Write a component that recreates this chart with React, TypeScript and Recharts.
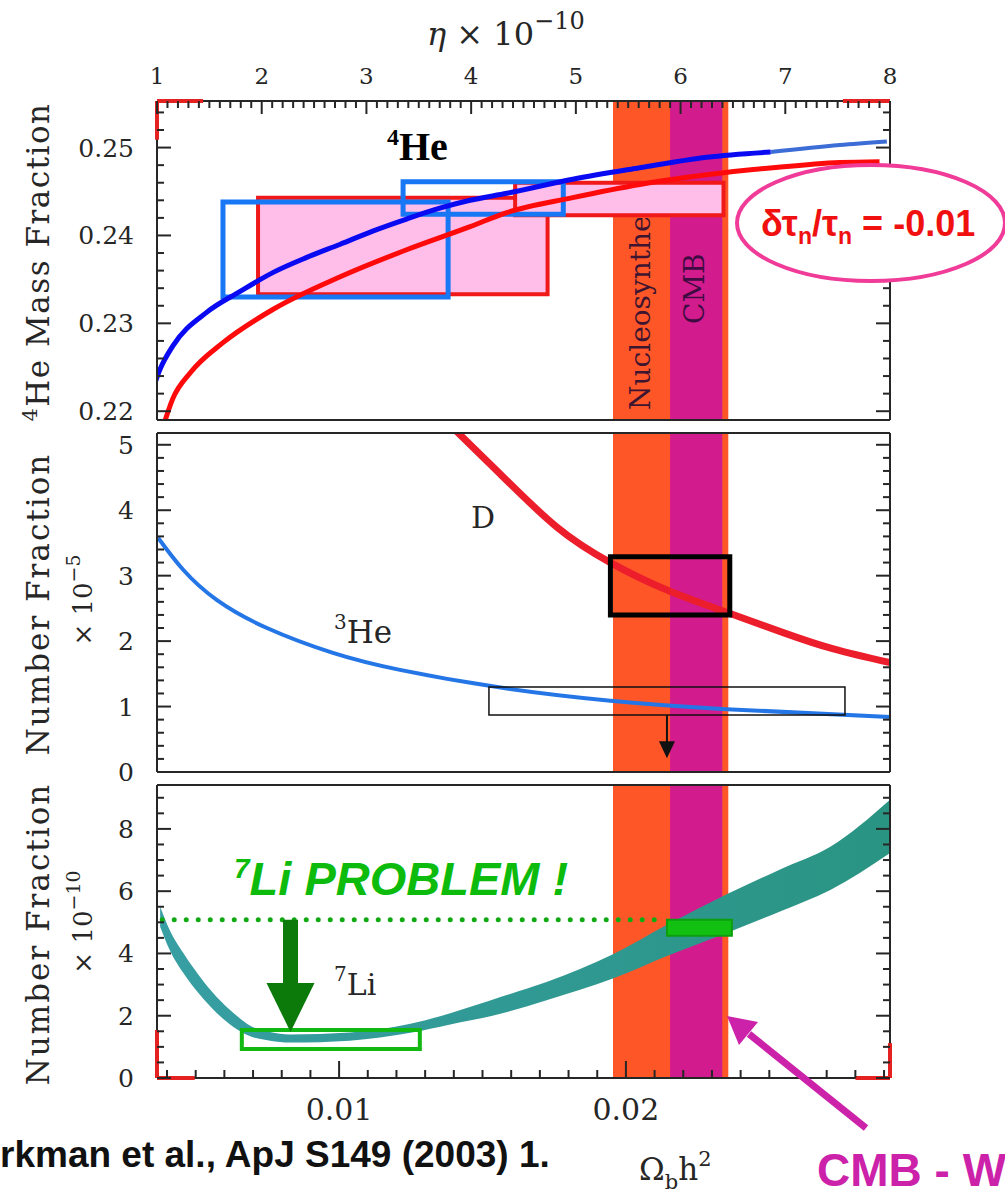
import React from 'react';
import {
  ComposedChart,
  Line,
  Area,
  XAxis,
  YAxis,
  ReferenceArea,
  ReferenceLine,
  ReferenceDot,
} from 'recharts';

const W = 1005;
const H = 1195;
const ETA_PER_OMEGA = 273.9; // eta_10 = 273.9 * Omega_b h^2

const SERIF = '"DejaVu Serif", "Liberation Serif", serif';
const TIMES = '"Liberation Serif", "DejaVu Serif", serif';
const SANS = '"Liberation Sans", Arial, sans-serif';

// ---- axis ticks ----
const etaTicks = Array.from({ length: 71 }, (_, i) => Math.round(10 + i) / 10);
const etaLabels = [1, 2, 3, 4, 5, 6, 7, 8];
const omegaTicks = Array.from({ length: 26 }, (_, i) => (4 + i) / 1000);
const omegaLabels = [0.01, 0.02];
const omegaDomain = [1 / ETA_PER_OMEGA, 8 / ETA_PER_OMEGA];

const heTicks = Array.from({ length: 18 }, (_, i) => (220 + 2 * i) / 1000);
const heLabels = [0.22, 0.23, 0.24, 0.25];
const dTicks = Array.from({ length: 26 }, (_, i) => (2 * i) / 10);
const dLabels = [0, 1, 2, 3, 4, 5];
const liTicks = Array.from({ length: 19 }, (_, i) => i / 2);
const liLabels = [0, 2, 4, 6, 8];

// ---- bands in Omega_b h^2 ----
const nucleoBand = [0.01955, 0.02357];
const cmbBand = [0.02154, 0.02336];

// ---- 4He mass fraction ----
const heBlueEta = [0.9, 1.03, 1.15, 1.48, 1.79, 2.11, 2.43, 2.75, 3.06, 3.39, 3.7, 3.99, 4.34, 4.97, 5.61, 6.25, 6.86];
const heBlueY = [0.2202, 0.2248, 0.2274, 0.2313, 0.2336, 0.2358, 0.2375, 0.239, 0.2405, 0.2419, 0.2431, 0.244, 0.2448, 0.2464, 0.2477, 0.2489, 0.2495];
const heTailEta = [6.86, 7.52, 7.97];
const heTailY = [0.2495, 0.2503, 0.2507];
const heRedEta = [1.06, 1.15, 1.32, 1.63, 2.11, 2.75, 3.39, 3.99, 4.34, 4.97, 5.61, 6.25, 6.88, 7.52, 7.9];
const heRedY = [0.2183, 0.2214, 0.2244, 0.2278, 0.2316, 0.2353, 0.2384, 0.241, 0.2426, 0.2443, 0.2458, 0.2469, 0.2477, 0.2483, 0.2484];
// observation boxes [eta1, eta2, Y1, Y2]
const hePinkBoxes = [
  [1.965, 4.73, 0.2333, 0.2443],
  [4.42, 6.41, 0.2423, 0.246],
];
const heBlueBoxes = [
  [1.63, 3.78, 0.233, 0.2438],
  [3.35, 4.88, 0.2424, 0.2461],
];

// ---- D and 3He (x 1e-5) ----
const dEta = [3.8, 4.28, 4.82, 5.33, 5.87, 6.44, 6.98, 7.46, 8.0];
const dVal = [5.3, 4.55, 3.74, 3.2, 2.78, 2.44, 2.13, 1.88, 1.67];
const he3Eta = [1.01, 1.25, 1.57, 2.05, 2.68, 3.32, 4.28, 5.33, 6.44, 8.0];
const he3Val = [3.58, 3.09, 2.63, 2.2, 1.82, 1.56, 1.29, 1.09, 0.96, 0.84];
const dBox = [5.33, 6.47, 2.4, 3.29];
const he3Box = [4.17, 7.57, 0.87, 1.3];
const he3LimitEta = 5.87;
const he3LimitTip = 0.21;

// ---- 7Li band (x 1e-10) ----
const liEta = [1.03, 1.12, 1.25, 1.41, 1.57, 1.73, 1.89, 2.08, 2.27, 2.84, 3.42, 3.8, 4.28, 4.72, 5.36, 5.87, 6.44, 6.95, 7.43, 8.0];
const liLow = [4.86, 4.12, 3.38, 2.67, 2.09, 1.64, 1.34, 1.2, 1.14, 1.2, 1.45, 1.72, 2.06, 2.5, 3.2, 3.92, 4.66, 5.35, 6.04, 7.23];
const liHigh = [5.5, 4.76, 4.02, 3.25, 2.6, 2.09, 1.68, 1.48, 1.4, 1.46, 1.74, 2.08, 2.6, 3.08, 3.98, 4.92, 5.9, 6.7, 7.43, 8.94];
const liObsBox = [1.81, 3.51, 0.93, 1.54];
const liCmbBox = [5.87, 6.49, 4.57, 5.08];
const liCmbLevel = 5.08;
const liArrowEta = 2.275;
const liArrowTip = 1.48;

const heBlueRows = heBlueEta.map((x, i) => ({ x, y: heBlueY[i] }));
const heTailRows = heTailEta.map((x, i) => ({ x, y: heTailY[i] }));
const heRedRows = heRedEta.map((x, i) => ({ x, y: heRedY[i] }));
const dRows = dEta.map((x, i) => ({ x, y: dVal[i] }));
const he3Rows = he3Eta.map((x, i) => ({ x, y: he3Val[i] }));
const liRows = liEta.map((x, i) => ({ x, band: [liLow[i], liHigh[i]] }));

const INK = '#262626';
const frame = { stroke: INK, strokeWidth: 2 };
const ORANGE = '#FF5628';
const MAGENTA = '#D21B8C';

type Side = 'left' | 'right' | 'top' | 'bottom';

// inward-pointing ticks, labels only on the major values
function inTick(side: Side, majors: number[], fmt: ((v: number) => string) | null, fontSize = 24, majorLen = 14, minorLen = 7) {
  return (props: any) => {
    const { x, y, payload } = props;
    const v = payload.value as number;
    const isMajor = majors.some((m) => Math.abs(m - v) < 1e-7);
    const len = isMajor ? majorLen : minorLen;
    let x2 = x;
    let y2 = y;
    if (side === 'left') x2 = x + len;
    if (side === 'right') x2 = x - len;
    if (side === 'top') y2 = y + len;
    if (side === 'bottom') y2 = y - len;
    let label = null;
    if (isMajor && fmt) {
      if (side === 'left') {
        label = (
          <text x={x - 23} y={y + 9} textAnchor="end" fontSize={fontSize} fontFamily={SERIF} fill={INK}>
            {fmt(v)}
          </text>
        );
      } else if (side === 'top') {
        label = (
          <text x={x} y={y - 17} textAnchor="middle" fontSize={fontSize} fontFamily={SERIF} fill={INK}>
            {fmt(v)}
          </text>
        );
      } else if (side === 'bottom') {
        label = (
          <text x={x} y={y + 42} textAnchor="middle" fontSize={fontSize} fontFamily={SERIF} fill={INK}>
            {fmt(v)}
          </text>
        );
      }
    }
    return (
      <g>
        <line x1={x} y1={y} x2={x2} y2={y2} stroke={INK} strokeWidth={2} />
        {label}
      </g>
    );
  };
}

const downHead = (half: number, height: number, color: string) => (p: any) => (
  <polygon
    points={`${p.cx - half},${p.cy - height} ${p.cx + half},${p.cy - height} ${p.cx},${p.cy}`}
    fill={color}
  />
);

const ids = { xAxisId: 'eta', yAxisId: 'l' };
const omIds = { xAxisId: 'om', yAxisId: 'l' };

function bandAreas() {
  return [
    <ReferenceArea key="ns" {...omIds} x1={nucleoBand[0]} x2={nucleoBand[1]} fill={ORANGE} fillOpacity={1} stroke="none" zIndex={50} />,
    <ReferenceArea key="cmb" {...omIds} x1={cmbBand[0]} x2={cmbBand[1]} fill={MAGENTA} fillOpacity={1} stroke="none" zIndex={51} />,
  ];
}

function axes(opts: {
  topH: number;
  bottomH: number;
  topTicks: boolean;
  bottomTicks: boolean;
  yDomain: number[];
  yTicks: number[];
  yLabels: number[];
  yFmt: (v: number) => string;
}) {
  return [
    <XAxis
      key="xt"
      xAxisId="eta"
      dataKey="x"
      type="number"
      orientation="top"
      domain={[1, 8]}
      allowDataOverflow
      height={opts.topH}
      ticks={opts.topTicks ? etaTicks : []}
      interval={0}
      tickSize={0}
      tickMargin={0}
      tickLine={false}
      axisLine={frame}
      tick={opts.topTicks ? inTick('top', etaLabels, (v) => String(v), 23, 13, 7) : false}
    />,
    <XAxis
      key="xb"
      xAxisId="om"
      dataKey="x"
      type="number"
      orientation="bottom"
      domain={omegaDomain}
      allowDataOverflow
      height={opts.bottomH}
      ticks={opts.bottomTicks ? omegaTicks : []}
      interval={0}
      tickSize={0}
      tickMargin={0}
      tickLine={false}
      axisLine={frame}
      tick={opts.bottomTicks ? inTick('bottom', omegaLabels, (v) => v.toFixed(2), 30, 17, 8) : false}
    />,
    <YAxis
      key="yl"
      yAxisId="l"
      type="number"
      orientation="left"
      width={157}
      domain={opts.yDomain}
      allowDataOverflow
      ticks={opts.yTicks}
      interval={0}
      tickSize={0}
      tickMargin={0}
      tickLine={false}
      axisLine={frame}
      tick={inTick('left', opts.yLabels, opts.yFmt, 25)}
    />,
    <YAxis
      key="yr"
      yAxisId="r"
      type="number"
      orientation="right"
      width={115}
      domain={opts.yDomain}
      allowDataOverflow
      ticks={opts.yTicks}
      interval={0}
      tickSize={0}
      tickMargin={0}
      tickLine={false}
      axisLine={frame}
      tick={inTick('right', opts.yLabels, null)}
    />,
  ];
}

const redEdge = { stroke: '#E42222', strokeWidth: 4, ifOverflow: 'visible' as const, zIndex: 600 };

function HeliumPanel() {
  const yDomain = [0.219, 0.2553];
  return (
    <ComposedChart width={W} height={440} margin={{ top: 61, right: 0, bottom: 10, left: 0 }}>
      {axes({ topH: 40, bottomH: 10, topTicks: true, bottomTicks: false, yDomain, yTicks: heTicks, yLabels: heLabels, yFmt: (v) => v.toFixed(2) })}
      {bandAreas()}
      {hePinkBoxes.map((b, i) => (
        <ReferenceArea key={`p${i}`} {...ids} x1={b[0]} x2={b[1]} y1={b[2]} y2={b[3]} fill="#FFBDEA" fillOpacity={1} stroke="#F01818" strokeWidth={4} zIndex={150} />
      ))}
      {heBlueBoxes.map((b, i) => (
        <ReferenceArea key={`b${i}`} {...ids} x1={b[0]} x2={b[1]} y1={b[2]} y2={b[3]} fill="none" stroke="#1777F5" strokeWidth={5} zIndex={160} />
      ))}
      <Line {...ids} data={heRedRows} dataKey="y" type="monotone" stroke="#FF0A0A" strokeWidth={5} dot={false} isAnimationActive={false} zIndex={400} />
      <Line {...ids} data={heTailRows} dataKey="y" type="monotone" stroke="#3C6CD6" strokeWidth={4} dot={false} isAnimationActive={false} zIndex={401} />
      <Line {...ids} data={heBlueRows} dataKey="y" type="monotone" stroke="#0A0AF2" strokeWidth={5} dot={false} isAnimationActive={false} zIndex={402} />
      <ReferenceLine {...ids} segment={[{ x: 1, y: 0.2553 }, { x: 1.44, y: 0.2553 }]} {...redEdge} />
      <ReferenceLine {...ids} segment={[{ x: 1, y: 0.2553 }, { x: 1, y: 0.2509 }]} {...redEdge} />
      <ReferenceLine {...ids} segment={[{ x: 7.55, y: 0.2553 }, { x: 8, y: 0.2553 }]} {...redEdge} />
    </ComposedChart>
  );
}

function LightPanel() {
  const yDomain = [0, 5.18];
  return (
    <ComposedChart width={W} height={365} margin={{ top: 0, right: 0, bottom: 10, left: 0 }}>
      {axes({ topH: 8, bottomH: 8, topTicks: false, bottomTicks: false, yDomain, yTicks: dTicks, yLabels: dLabels, yFmt: (v) => String(v) })}
      {bandAreas()}
      <Line {...ids} data={he3Rows} dataKey="y" type="natural" stroke="#2476E6" strokeWidth={4} dot={false} isAnimationActive={false} zIndex={400} />
      <Line {...ids} data={dRows} dataKey="y" type="natural" stroke="#EC1E2C" strokeWidth={7} dot={false} isAnimationActive={false} zIndex={401} />
      <ReferenceArea {...ids} x1={dBox[0]} x2={dBox[1]} y1={dBox[2]} y2={dBox[3]} fill="none" stroke="#000" strokeWidth={5} zIndex={450} />
      <ReferenceArea {...ids} x1={he3Box[0]} x2={he3Box[1]} y1={he3Box[2]} y2={he3Box[3]} fill="none" stroke="#111" strokeWidth={1.5} zIndex={450} />
      <ReferenceLine {...ids} segment={[{ x: he3LimitEta, y: he3Box[2] }, { x: he3LimitEta, y: he3LimitTip + 0.2 }]} stroke="#111" strokeWidth={2} zIndex={450} />
      <ReferenceDot {...ids} x={he3LimitEta} y={he3LimitTip} shape={downHead(8, 17, '#111')} zIndex={451} />
    </ComposedChart>
  );
}

function LithiumPanel() {
  const yDomain = [0, 9.41];
  return (
    <ComposedChart width={W} height={415} margin={{ top: 0, right: 0, bottom: 0, left: 0 }}>
      <defs>
        <linearGradient id="liFill" x1="0" y1="0" x2="1" y2="0">
          <stop offset="0%" stopColor="#379EA3" />
          <stop offset="100%" stopColor="#2A9483" />
        </linearGradient>
      </defs>
      {axes({ topH: 5, bottomH: 117, topTicks: false, bottomTicks: true, yDomain, yTicks: liTicks, yLabels: liLabels, yFmt: (v) => String(v) })}
      {bandAreas()}
      <Area {...ids} data={liRows} dataKey="band" type="monotone" fill="url(#liFill)" fillOpacity={1} stroke="none" isAnimationActive={false} zIndex={200} />
      <ReferenceArea {...ids} x1={liObsBox[0]} x2={liObsBox[1]} y1={liObsBox[2]} y2={liObsBox[3]} fill="none" stroke="#12B812" strokeWidth={4} zIndex={450} />
      <ReferenceLine
        {...ids}
        segment={[{ x: 1.05, y: liCmbLevel }, { x: 5.76, y: liCmbLevel }]}
        stroke="#12AA12"
        strokeWidth={5}
        strokeDasharray="0 12"
        strokeLinecap="round"
        zIndex={450}
      />
      <ReferenceArea {...ids} x1={liCmbBox[0]} x2={liCmbBox[1]} y1={liCmbBox[2]} y2={liCmbBox[3]} fill="#12C012" fillOpacity={1} stroke="#0D9E0D" strokeWidth={2} zIndex={455} />
      <ReferenceLine {...ids} segment={[{ x: liArrowEta, y: liCmbLevel }, { x: liArrowEta, y: 3.0 }]} stroke="#0B7A0B" strokeWidth={15} zIndex={460} />
      <ReferenceDot {...ids} x={liArrowEta} y={liArrowTip} shape={downHead(24, 49, '#0B7A0B')} zIndex={461} />
      <ReferenceLine {...ids} segment={[{ x: 1, y: 0 }, { x: 1, y: 1.54 }]} {...redEdge} />
      <ReferenceLine {...ids} segment={[{ x: 1, y: 0 }, { x: 1.36, y: 0 }]} {...redEdge} />
      <ReferenceLine {...ids} segment={[{ x: 7.67, y: 0 }, { x: 8, y: 0 }]} {...redEdge} />
      <ReferenceLine {...ids} segment={[{ x: 8, y: 0 }, { x: 8, y: 1.12 }]} {...redEdge} />
    </ComposedChart>
  );
}

function Annotations() {
  return (
    <svg width={W} height={H} style={{ position: 'absolute', left: 0, top: 0, pointerEvents: 'none' }}>
      <defs>
        <clipPath id="nsClip">
          <rect x={600} y={218} width={80} height={202} />
        </clipPath>
      </defs>

      {/* top axis title */}
      <text x={427} y={45} fontFamily={SERIF} fontSize={32} fill={INK}>
        <tspan fontStyle="italic">η</tspan>
        <tspan> × 10</tspan>
        <tspan fontSize={24} dy={-16}>−10</tspan>
      </text>

      {/* y axis titles */}
      <text transform="translate(49,262) rotate(-90)" textAnchor="middle" fontFamily={SERIF} fontSize={31} letterSpacing={1.5} fill={INK}>
        <tspan fontSize={21} dy={-12}>4</tspan>
        <tspan dy={12}>He Mass Fraction</tspan>
      </text>
      <text transform="translate(49,604) rotate(-90)" textAnchor="middle" fontFamily={SERIF} fontSize={31} letterSpacing={2} fill={INK}>
        Number Fraction
      </text>
      <text transform="translate(92,600) rotate(-90)" textAnchor="middle" fontFamily={SERIF} fontSize={26} fill={INK}>
        <tspan>× 10</tspan>
        <tspan fontSize={19} dy={-12}>−5</tspan>
      </text>
      <text transform="translate(49,934) rotate(-90)" textAnchor="middle" fontFamily={SERIF} fontSize={31} letterSpacing={2} fill={INK}>
        Number Fraction
      </text>
      <text transform="translate(92,922) rotate(-90)" textAnchor="middle" fontFamily={SERIF} fontSize={26} fill={INK}>
        <tspan>× 10</tspan>
        <tspan fontSize={19} dy={-12}>−10</tspan>
      </text>

      {/* band captions */}
      <g clipPath="url(#nsClip)">
        <text transform="translate(650,410) rotate(-90)" fontFamily={SERIF} fontSize={28} fill="#3D1530">
          Nucleosynthesis
        </text>
      </g>
      <text transform="translate(704,324) rotate(-90)" fontFamily={SERIF} fontSize={28} fill="#3E0C42">
        CMB
      </text>

      {/* species labels */}
      <text x={387} y={160} fontFamily={TIMES} fontWeight="bold" fontSize={40} fill="#000">
        <tspan fontSize={24} dy={-15}>4</tspan>
        <tspan dy={15}>He</tspan>
      </text>
      <text x={471} y={528} fontFamily={SERIF} fontSize={30} fill={INK}>D</text>
      <text x={334} y={643} fontFamily={SERIF} fontSize={31} fill={INK}>
        <tspan fontSize={20} dy={-14}>3</tspan>
        <tspan dy={14}>He</tspan>
      </text>
      <text x={334} y={995} fontFamily={SERIF} fontSize={30} fill={INK}>
        <tspan fontSize={20} dy={-14}>7</tspan>
        <tspan dy={14}>Li</tspan>
      </text>

      {/* neutron lifetime note */}
      <ellipse cx={871} cy={223} rx={134} ry={58} fill="#fff" stroke="#F03C98" strokeWidth={4} />
      <text x={761} y={236} fontFamily={SANS} fontWeight="bold" fontSize={36} fill="#F01010">
        <tspan>δτ</tspan>
        <tspan fontSize={23} dy={8}>n</tspan>
        <tspan dy={-8}>/τ</tspan>
        <tspan fontSize={23} dy={8}>n</tspan>
        <tspan dy={-8}> = -0.01</tspan>
      </text>

      {/* lithium problem */}
      <text x={234} y={895} fontFamily={SANS} fontWeight="bold" fontStyle="italic" fontSize={47} fill="#0DBB0D">
        <tspan fontSize={28} dy={-17}>7</tspan>
        <tspan dy={17}>Li PROBLEM !</tspan>
      </text>

      {/* footer */}
      <text x={0} y={1167} fontFamily={SANS} fontWeight="bold" fontSize={37} fill="#111">
        rkman et al., ApJ S149 (2003) 1.
      </text>
      <text x={639} y={1180} fontFamily={SERIF} fontSize={31} fill={INK}>
        <tspan>Ω</tspan>
        <tspan fontSize={21} dy={9}>b</tspan>
        <tspan dy={-9}>h</tspan>
        <tspan fontSize={21} dy={-14}>2</tspan>
      </text>
      <text x={817} y={1186} fontFamily={SANS} fontWeight="bold" fontSize={46} fill="#CC22AA">
        CMB - WMAP
      </text>
      <line x1={866} y1={1128} x2={749} y2={1034} stroke="#CC22AA" strokeWidth={7} />
      <polygon points="727,1016 758,1022 739,1045" fill="#CC22AA" />
    </svg>
  );
}

export default function App() {
  return (
    <div style={{ position: 'absolute', left: 0, top: 0, width: W, height: H, background: '#fff', overflow: 'hidden' }}>
      <div style={{ position: 'absolute', left: 0, top: 0 }}>
        <HeliumPanel />
      </div>
      <div style={{ position: 'absolute', left: 0, top: 425 }}>
        <LightPanel />
      </div>
      <div style={{ position: 'absolute', left: 0, top: 780 }}>
        <LithiumPanel />
      </div>
      <Annotations />
    </div>
  );
}
